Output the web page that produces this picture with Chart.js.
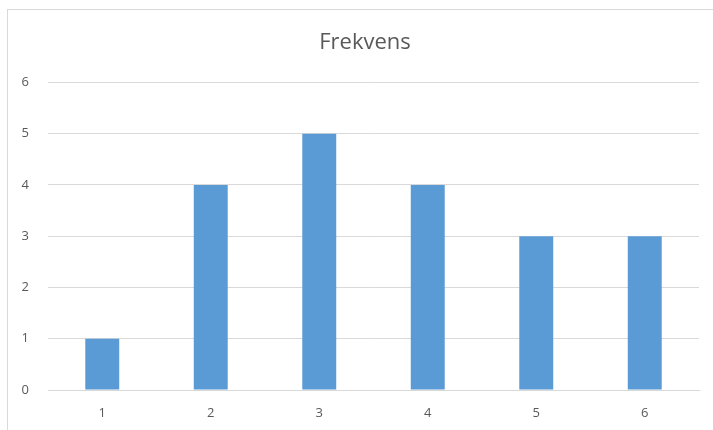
<!DOCTYPE html>
<html>
<head>
<meta charset="utf-8">
<script src="https://cdn.jsdelivr.net/npm/chart.js@4/dist/chart.umd.min.js"></script>
<style>
  html, body { margin: 0; padding: 0; background: #ffffff; overflow: hidden; }
  #wrap { position: relative; width: 713px; height: 430px; overflow: hidden; }
  #frame { position: absolute; left: 7px; top: 9px; width: 730px; height: 440px; border: 1px solid #d9d9d9; box-sizing: border-box; }
  #c { position: absolute; left: 0; top: 0; }
</style>
</head>
<body>
<div id="wrap">
  <div id="frame"></div>
  <canvas id="c" width="730" height="430"></canvas>
</div>
<script>
// Frequency per category
const categories = ['1', '2', '3', '4', '5', '6'];
const frekvens = [1, 4, 5, 4, 3, 3];
const yTicks = [0, 1, 2, 3, 4, 5, 6];

const textColor = '#595959';
const gridColor = '#d9d9d9';

new Chart(document.getElementById('c'), {
  type: 'bar',
  data: {
    labels: categories,
    datasets: [{
      label: 'Frekvens',
      data: frekvens,
      backgroundColor: '#5b9bd5',
      borderWidth: 0,
      categoryPercentage: 1,
      barPercentage: 0.313
    }]
  },
  options: {
    responsive: false,
    animation: false,
    layout: { padding: 0 },
    plugins: {
      legend: { display: false },
      tooltip: { enabled: false },
      title: {
        display: true,
        text: 'Frekvens',
        color: textColor,
        font: { family: 'Open Sans', size: 22, weight: 'normal' },
        padding: { top: 30, bottom: 26 }
      }
    },
    scales: {
      x: {
        grid: { display: false, drawTicks: false },
        border: { display: true, color: gridColor, width: 1 },
        ticks: { color: textColor, font: { family: 'Open Sans', size: 13 }, padding: 15 },
        afterFit: (s) => { s.height = 40; }
      },
      y: {
        min: 0,
        max: 6,
        afterBuildTicks: (s) => { s.ticks = yTicks.map(v => ({ value: v })); },
        grid: { color: gridColor, lineWidth: 1, drawTicks: false },
        border: { display: false },
        ticks: { color: textColor, font: { family: 'Open Sans', size: 13 }, padding: 19 },
        afterFit: (s) => { s.width = 48; }
      },
      // empty margin on the right of the plot
      yRight: {
        position: 'right',
        grid: { display: false, drawTicks: false },
        border: { display: false },
        ticks: { display: false },
        afterFit: (s) => { s.width = 31; }
      }
    }
  }
});
</script>
</body>
</html>
